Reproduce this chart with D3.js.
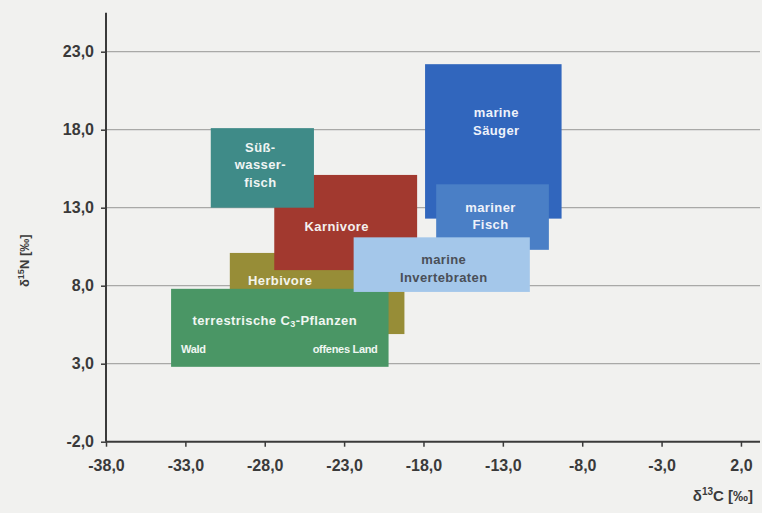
<!DOCTYPE html>
<html>
<head>
<meta charset="utf-8">
<script src="https://cdn.jsdelivr.net/npm/d3@7"></script>
<style>
  html, body { margin: 0; padding: 0; background: #f1f1ef; }
  svg { display: block; font-family: "Liberation Sans", Arial, sans-serif; }
</style>
</head>
<body>
<svg id="chart" width="762" height="513"></svg>
<script>
// Isotope ranges (δ13C / δ15N, ‰) of food-web groups, drawn bottom to top
const groups   = ["Herbivore", "Karnivore", "Süßwasserfisch", "terrestrische C3-Pflanzen",
                  "marine Säuger", "mariner Fisch", "marine Invertebraten"];
const d13cMin  = [-30.2, -27.4, -31.4, -33.9, -17.9, -17.2, -22.4];
const d13cMax  = [-19.2, -18.4, -24.9, -20.2,  -9.3, -10.1, -11.3];
const d15nMin  = [  4.9,   9.0,  13.0,   2.8,  12.3,  10.3,   7.6];
const d15nMax  = [ 10.1,  15.1,  18.1,   7.8,  22.2,  14.5,  11.1];

const xTicks = [-38, -33, -28, -23, -18, -13, -8, -3, 2];
const yTicks = [-2, 3, 8, 13, 18, 23];

// Styling per group: fill, text colour, label lines and nudges from the box centre (px)
const style = {
  "Herbivore":                 { fill: "#978d37", text: "#f4f4ea", dx: -37, dy: -12 },
  "Karnivore":                 { fill: "#a2392f", text: "#f4f0ee", dx: -9,  dy: 5 },
  "Süßwasserfisch":            { fill: "#3f8b88", text: "#f0f5f4", dx: -2,  dy: -2,
                                 lines: ["Süß-", "wasser-", "fisch"] },
  "terrestrische C3-Pflanzen": { fill: "#4a9665", text: "#f0f6f2", dx: -5,  dy: -6 },
  "marine Säuger":             { fill: "#3166bd", text: "#eef2fa", dx: 3,   dy: -19,
                                 lines: ["marine", "Säuger"] },
  "mariner Fisch":             { fill: "#4a7fc6", text: "#eef2fa", dx: -2,  dy: 0,
                                 lines: ["mariner", "Fisch"] },
  "marine Invertebraten":      { fill: "#a4c7ea", text: "#4a4f58", dx: 2,   dy: 5,
                                 lines: ["marine", "Invertebraten"] }
};

const svg = d3.select("#chart");
const x = d3.scaleLinear().domain([-38, 3.2]).range([106, 760]);
const y = d3.scaleLinear().domain([-2, 25.5]).range([441.7, 12.7]);
const fmt = d => d.toFixed(1).replace(".", ",");

// Horizontal grid lines
svg.append("g").selectAll("line")
  .data(yTicks.filter(v => v > -2))
  .join("line")
  .attr("x1", x(-38)).attr("x2", x(3.2))
  .attr("y1", d => y(d)).attr("y2", d => y(d))
  .attr("stroke", "#a9a9a7").attr("stroke-width", 1.2);

// Range boxes
const rows = groups.map((g, i) => ({
  name: g, x0: d13cMin[i], x1: d13cMax[i], y0: d15nMin[i], y1: d15nMax[i]
}));

svg.append("g").selectAll("rect")
  .data(rows)
  .join("rect")
  .attr("x", d => x(d.x0))
  .attr("y", d => y(d.y1))
  .attr("width", d => x(d.x1) - x(d.x0))
  .attr("height", d => y(d.y0) - y(d.y1))
  .attr("fill", d => style[d.name].fill);

// Box labels
const labels = svg.append("g")
  .attr("font-weight", "bold")
  .attr("font-size", 13)
  .attr("letter-spacing", 0.4);

rows.forEach(d => {
  const s = style[d.name];
  const cx = (x(d.x0) + x(d.x1)) / 2 + s.dx;
  const cy = (y(d.y0) + y(d.y1)) / 2 + s.dy;
  if (d.name === "terrestrische C3-Pflanzen") {
    const t = labels.append("text")
      .attr("x", cx).attr("y", cy)
      .attr("text-anchor", "middle").attr("dominant-baseline", "middle")
      .attr("fill", s.text);
    t.append("tspan").text("terrestrische C");
    t.append("tspan").attr("font-size", 9).attr("dy", 3).text("3");
    t.append("tspan").attr("dy", -3).text("-Pflanzen");
    labels.append("text")
      .attr("x", x(d.x0) + 10).attr("y", cy + 28)
      .attr("font-size", 11).attr("letter-spacing", -0.3)
      .attr("dominant-baseline", "middle")
      .attr("fill", s.text).text("Wald");
    labels.append("text")
      .attr("x", x(d.x1) - 11).attr("y", cy + 28)
      .attr("font-size", 11).attr("letter-spacing", -0.3)
      .attr("text-anchor", "end").attr("dominant-baseline", "middle")
      .attr("fill", s.text).text("offenes Land");
    return;
  }
  const lines = s.lines || [d.name];
  const lh = 17.5;
  lines.forEach((ln, k) => {
    labels.append("text")
      .attr("x", cx)
      .attr("y", cy + (k - (lines.length - 1) / 2) * lh)
      .attr("text-anchor", "middle")
      .attr("dominant-baseline", "middle")
      .attr("fill", s.text)
      .text(ln);
  });
});

// Axes
const yAxis = svg.append("g")
  .attr("transform", `translate(${x(-38)},0)`)
  .call(d3.axisLeft(y).tickValues(yTicks).tickFormat(fmt).tickSize(5).tickPadding(7));
const xAxis = svg.append("g")
  .attr("transform", `translate(0,${y(-2)})`)
  .call(d3.axisBottom(x).tickValues(xTicks).tickFormat(fmt).tickSize(5).tickPadding(13));

[xAxis, yAxis].forEach(a => {
  a.select(".domain").attr("stroke", "#3a3a3a").attr("stroke-width", 2);
  a.selectAll(".tick line").attr("stroke", "#3a3a3a").attr("stroke-width", 1.5);
  a.selectAll(".tick text")
    .attr("fill", "#3a3a3a")
    .attr("font-size", 16)
    .attr("font-weight", "bold")
    .attr("font-family", "'Liberation Sans', Arial, sans-serif");
});
xAxis.select(".domain").attr("d", `M${x(-38)},0H${x(3.2)}`);
yAxis.select(".domain").attr("d", `M0,${y(25.5)}V${y(-2)}`);

// Axis titles
const yTitle = svg.append("text")
  .attr("transform", `translate(29,${y(9.6)}) rotate(-90)`)
  .attr("text-anchor", "middle")
  .attr("font-size", 13).attr("font-weight", "bold").attr("fill", "#3a3a3a");
yTitle.append("tspan").text("δ");
yTitle.append("tspan").attr("font-size", 9).attr("dy", -5).text("15");
yTitle.append("tspan").attr("dy", 5).text("N [‰]");

const xTitle = svg.append("text")
  .attr("x", 753).attr("y", 501)
  .attr("text-anchor", "end")
  .attr("font-size", 15).attr("font-weight", "bold").attr("fill", "#3a3a3a");
xTitle.append("tspan").text("δ");
xTitle.append("tspan").attr("font-size", 10).attr("dy", -6).text("13");
xTitle.append("tspan").attr("dy", 6).text("C [‰]");
</script>
</body>
</html>
